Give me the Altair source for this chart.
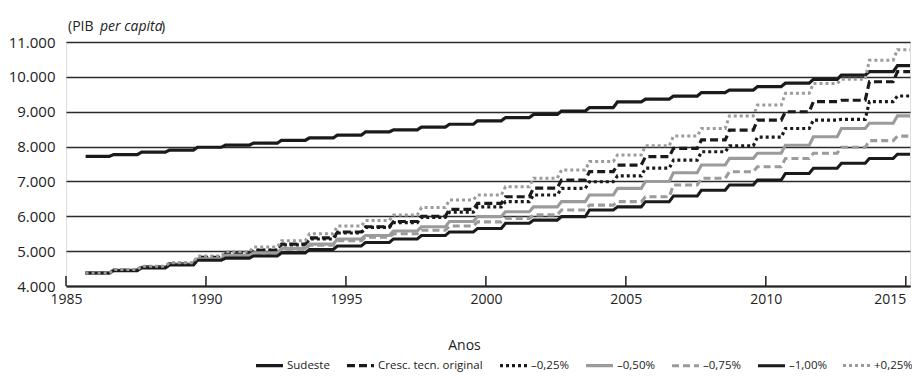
import altair as alt
import pandas as pd

FONT = "Open Sans"

years = list(range(1986, 2016))
series_names = ["Sudeste", "Cresc. tecn. original", "–0,25%", "–0,50%", "–0,75%", "–1,00%", "+0,25%"]

sudeste = [7720, 7770, 7840, 7900, 7980, 8040, 8100, 8180, 8250, 8330, 8420, 8480, 8560, 8640, 8740,
           8830, 8920, 9020, 9120, 9280, 9360, 9450, 9550, 9620, 9720, 9820, 9930, 10050, 10150, 10320]
cresc = [4370, 4460, 4550, 4640, 4820, 4920, 5020, 5200, 5380, 5550, 5700, 5850, 6000, 6200, 6370,
         6560, 6810, 7040, 7280, 7470, 7710, 7950, 8190, 8470, 8760, 9000, 9290, 9330, 9860, 10150]
menos025 = [4370, 4460, 4550, 4650, 4820, 4920, 5030, 5180, 5350, 5520, 5680, 5820, 5970, 6120, 6270,
            6420, 6610, 6800, 6990, 7160, 7380, 7610, 7850, 8020, 8270, 8520, 8760, 8780, 9290, 9450]
menos050 = [4370, 4450, 4540, 4630, 4780, 4880, 4950, 5080, 5200, 5350, 5450, 5580, 5700, 5850, 5990,
            6130, 6270, 6420, 6610, 6800, 7000, 7250, 7470, 7660, 7810, 8040, 8280, 8520, 8670, 8880]
menos075 = [4370, 4450, 4540, 4620, 4770, 4860, 4930, 5050, 5170, 5300, 5400, 5500, 5600, 5720, 5840,
            5940, 6040, 6180, 6320, 6420, 6560, 6900, 7090, 7280, 7420, 7660, 7810, 7980, 8170, 8300]
menos100 = [4370, 4440, 4520, 4600, 4740, 4800, 4860, 4950, 5050, 5150, 5250, 5350, 5450, 5550, 5650,
            5800, 5890, 5990, 6180, 6270, 6420, 6580, 6750, 6900, 7040, 7230, 7380, 7520, 7660, 7780]
mais025 = [4370, 4470, 4570, 4670, 4860, 4980, 5120, 5300, 5500, 5720, 5880, 6040, 6250, 6470, 6610,
           6850, 7090, 7330, 7570, 7760, 8020, 8300, 8520, 8880, 9190, 9530, 9810, 9930, 10480, 10780]

all_series = [sudeste, cresc, menos025, menos050, menos075, menos100, mais025]

x_ticks = [1985, 1990, 1995, 2000, 2005, 2010, 2015]
y_ticks = [4000, 5000, 6000, 7000, 8000, 9000, 10000, 11000]
X_END = 2015.15

# each yearly value is held flat through the year (stepped look of the original)
rows = []
for name, vals in zip(series_names, all_series):
    for yr, v in zip(years, vals):
        rows.append({"serie": name, "ano": yr - 0.3, "pib": v})
        rows.append({"serie": name, "ano": min(yr + 0.55, X_END), "pib": v})
df = pd.DataFrame(rows)

BLACK = "#1a1a1a"
GREY = "#9b9b9b"
colors = [BLACK, BLACK, BLACK, GREY, GREY, BLACK, GREY]
dashes = [[1, 0], [8, 4], [3, 3], [1, 0], [7, 4], [1, 0], [3, 3]]
widths = [3.2, 3.0, 3.2, 3.2, 3.0, 1.6, 3.2]

W, H = 844, 244

xscale = alt.Scale(domain=[1985, X_END], nice=False, zero=False)
yscale = alt.Scale(domain=[4000, 11000], nice=False, zero=False)

lines = alt.Chart(df).mark_line(strokeCap="butt", strokeJoin="miter").encode(
    x=alt.X("ano:Q", scale=xscale,
            axis=alt.Axis(values=x_ticks, format="d", ticks=False, grid=False,
                          domain=True, domainColor="#222222", domainWidth=2,
                          labelFont=FONT, labelFontSize=14, labelColor="#222222",
                          labelPadding=6, labelFlush=False,
                          labelAlign={"condition": {"test": "datum.value == 2015", "value": "right"},
                                      "value": "center"},
                          title="Anos", titleFont=FONT, titleFontSize=14,
                          titleFontWeight="normal", titleColor="#222222",
                          titleX=398, titleY=59, titleBaseline="middle", titleAlign="center")),
    y=alt.Y("pib:Q", scale=yscale,
            axis=alt.Axis(values=y_ticks, ticks=False, domain=False, grid=True,
                          gridColor="#2b2b2b", gridWidth=1.3,
                          labelExpr="replace(format(datum.value, ',d'), ',', '.')",
                          labelFont=FONT, labelFontSize=15, labelColor="#222222",
                          labelPadding=11, title=None)),
    color=alt.Color("serie:N", sort=series_names,
                    scale=alt.Scale(domain=series_names, range=colors),
                    legend=alt.Legend(title=None, orient="none", legendX=188, legendY=308,
                                      direction="horizontal", columns=7,
                                      symbolType="stroke", symbolSize=729,
                                      labelFont=FONT, labelFontSize=11.5, labelColor="#222222",
                                      labelOffset=2, columnPadding=10, padding=0)),
    strokeDash=alt.StrokeDash("serie:N", sort=series_names,
                              scale=alt.Scale(domain=series_names, range=dashes)),
    strokeWidth=alt.StrokeWidth("serie:N", sort=series_names,
                                scale=alt.Scale(domain=series_names, range=widths)),
)

ticks = alt.Chart(pd.DataFrame({"t": x_ticks})).mark_rule(color="#222222", strokeWidth=1.5).encode(
    x=alt.X("t:Q", scale=xscale),
    y=alt.value(H),
    y2=alt.value(H - 10),
)

def label(text, xpix, italic=False):
    return alt.Chart(pd.DataFrame({"t": [text]})).mark_text(
        align="left", baseline="middle", font=FONT, fontSize=14, color="#222222",
        fontStyle="italic" if italic else "normal",
    ).encode(text="t:N", x=alt.value(xpix), y=alt.value(-15))

ytitle = label("(PIB", 2) + label("per capita", 34, italic=True) + label(")", 95)

chart = alt.layer(lines, ticks, ytitle).properties(
    width=W, height=H,
    autosize=alt.AutoSizeParams(type="none"),
    padding={"left": 58, "top": 34, "right": 2, "bottom": 86},
).configure_view(stroke=None).configure(background="white")

chart.save("out.html", embed_options={"renderer": "svg", "actions": False})
